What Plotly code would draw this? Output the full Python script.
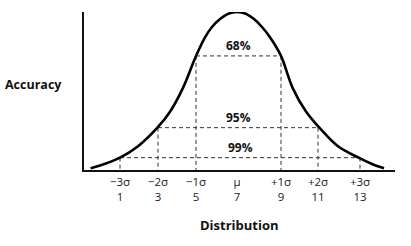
import plotly.graph_objects as go

# Curve (x in distribution units, y as % of peak height)
curve_x = [-0.47, 0.0, 1.0, 1.87, 2.87, 3.5, 4.15, 4.8, 5.25, 5.6, 6.0, 6.4, 6.85, 7.3, 7.7, 8.1, 8.5, 9.05, 9.63, 10.3, 10.97, 11.9, 12.93, 13.6, 14.2]
curve_y = [1.1, 2.8, 7.8, 14.7, 26.8, 36.9, 52.0, 72.2, 84.0, 90.5, 95.5, 98.8, 100.0, 98.8, 95.5, 90.5, 84.0, 72.2, 52.0, 37.0, 26.8, 15.0, 7.8, 3.8, 1.1]

# Bands
band_labels = ["68%", "95%", "99%"]
band_left = [4.8, 2.9, 1.0]
band_right = [9.05, 10.9, 13.0]
band_height = [72.2, 26.8, 7.8]

# Ticks
tick_pos = [1.0, 2.9, 4.8, 6.85, 9.05, 10.9, 13.0]
tick_sigma = ["\u22123\u03c3", "\u22122\u03c3", "\u22121\u03c3", "\u03bc", "+1\u03c3", "+2\u03c3", "+3\u03c3"]
tick_value = ["1", "3", "5", "7", "9", "11", "13"]

x_title = "Distribution"
y_title = "Accuracy"

FONT = "Open Sans"

fig = go.Figure()

# dashed guide lines
dx, dy = [], []
for l, r, h in zip(band_left, band_right, band_height):
    dx += [l, r, None, l, l, None, r, r, None]
    dy += [h, h, None, h, 0, None, h, 0, None]
fig.add_trace(go.Scatter(x=dx, y=dy, mode="lines",
                         line=dict(color="#333333", width=1, dash="4px,3px"),
                         hoverinfo="skip", showlegend=False))

fig.add_trace(go.Scatter(x=curve_x, y=curve_y, mode="lines", cliponaxis=False,
                         line=dict(color="black", width=2.6, shape="spline", smoothing=1.0),
                         showlegend=False))

for lab, l, r, h in zip(band_labels, band_left, band_right, band_height):
    fig.add_annotation(x=(l + r) / 2, y=h, text="<b>" + lab + "</b>", showarrow=False,
                       yshift=10, font=dict(family=FONT, size=12, color="#111111"))

fig.add_annotation(xref="paper", yref="paper", x=0.5, y=-0.348, text="<b>" + x_title + "</b>",
                   xanchor="center", yanchor="middle",
                   showarrow=False, font=dict(family=FONT, size=13, color="#111111"))
fig.add_annotation(xref="paper", yref="paper", x=-0.162, y=0.538, text="<b>" + y_title + "</b>",
                   xanchor="center", yanchor="middle",
                   showarrow=False, font=dict(family=FONT, size=12.5, color="#111111"))

fig.update_layout(
    width=411, height=246,
    margin=dict(l=84, r=16, t=12, b=76),
    paper_bgcolor="white", plot_bgcolor="white",
    xaxis=dict(range=[-0.8, 14.75], showgrid=False, zeroline=False,
               showline=True, linecolor="#111111", linewidth=1.5,
               tickmode="array", tickvals=tick_pos,
               ticktext=[s + "<br>" + v for s, v in zip(tick_sigma, tick_value)],
               ticks="", tickfont=dict(family=FONT, size=11.5, color="#222222")),
    yaxis=dict(range=[0, 100], showgrid=False, zeroline=False,
               showline=True, linecolor="#111111", linewidth=1.5,
               showticklabels=False, ticks=""),
)

fig.write_html("out.html")
